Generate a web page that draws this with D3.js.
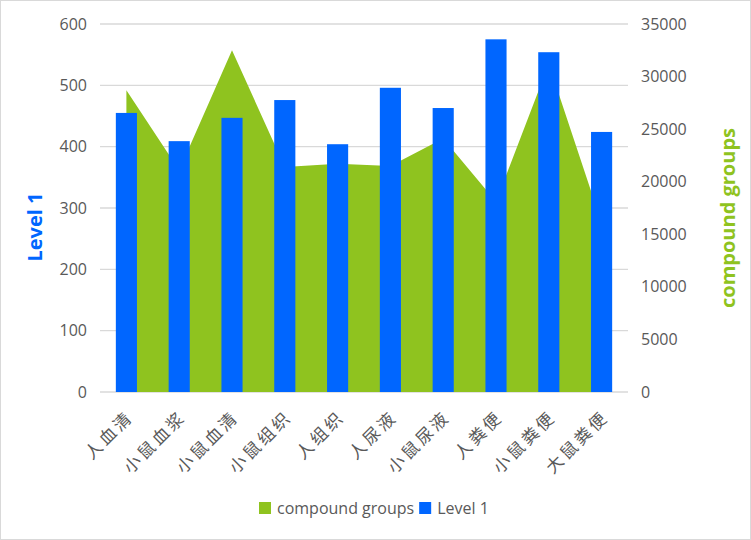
<!DOCTYPE html>
<html>
<head>
<meta charset="utf-8">
<script src="https://cdn.jsdelivr.net/npm/d3@7"></script>
<style>
  body { margin: 0; background: #fff; }
  text { font-family: "Open Sans", "Noto Sans CJK SC", sans-serif; }
</style>
</head>
<body>
<svg id="chart" width="751" height="540"></svg>
<script>
var categories = ['人血清', '小鼠血浆', '小鼠血清', '小鼠组织', '人组织', '人尿液', '小鼠尿液', '人粪便', '小鼠粪便', '大鼠粪便'];
var level1 = [455, 409, 447, 476, 404, 496, 463, 575, 554, 424];
var compoundGroups = [28700, 21100, 32500, 21400, 21700, 21500, 24100, 18100, 31200, 16100];
var leftTicks = [0, 100, 200, 300, 400, 500, 600];
var rightTicks = [0, 5000, 10000, 15000, 20000, 25000, 30000, 35000];

var blue = '#0066ff',
    green = '#8fc31f',
    margin = { left: 100, right: 123, top: 24, bottom: 148 },
    width = 751,
    height = 540;

var svg = d3.select('#chart');
var chartWidth = width - margin.left - margin.right;
var chartHeight = height - margin.top - margin.bottom;

svg.append('rect')
    .attr('x', 0.5).attr('y', 0.5)
    .attr('width', width - 1).attr('height', height - 1)
    .attr('fill', '#fff').attr('stroke', '#d9d9d9');

var xScale = d3.scaleBand().domain(categories).range([0, chartWidth]);
var yLeft = d3.scaleLinear().domain([0, 600]).range([chartHeight, 0]);
var yRight = d3.scaleLinear().domain([0, 35000]).range([chartHeight, 0]);

var g = svg.append('g')
    .attr('transform', 'translate(' + margin.left + ',' + margin.top + ')');

// gridlines
g.append('g').selectAll('line').data(leftTicks).enter().append('line')
    .attr('x1', 0).attr('x2', chartWidth)
    .attr('y1', d => yLeft(d)).attr('y2', d => yLeft(d))
    .attr('stroke', '#d9d9d9').attr('stroke-width', 1.3);

// area for compound groups
var area = d3.area()
    .x((d, i) => xScale(categories[i]) + xScale.bandwidth() / 2)
    .y0(chartHeight)
    .y1(d => yRight(d));

g.append('path')
    .datum(compoundGroups)
    .attr('d', area)
    .attr('fill', green);

// bars for level 1
var barW = xScale.bandwidth() * 0.4;
g.append('g').selectAll('rect').data(level1).enter().append('rect')
    .attr('x', (d, i) => xScale(categories[i]) + (xScale.bandwidth() - barW) / 2)
    .attr('width', barW)
    .attr('y', d => yLeft(d))
    .attr('height', d => chartHeight - yLeft(d))
    .attr('fill', blue);

// axes
var leftAxis = d3.axisLeft(yLeft).tickValues(leftTicks).tickSize(0).tickPadding(13);
var rightAxis = d3.axisRight(yRight).tickValues(rightTicks).tickSize(0).tickPadding(13)
    .tickFormat(d3.format('d'));

var la = g.append('g').call(leftAxis);
la.select('.domain').remove();
la.selectAll('text').attr('font-size', 16).attr('fill', '#595959');

var ra = g.append('g').attr('transform', 'translate(' + chartWidth + ',0)').call(rightAxis);
ra.select('.domain').remove();
ra.selectAll('text').attr('font-size', 16).attr('fill', '#595959');

// x labels
g.append('g').selectAll('text').data(categories).enter().append('text')
    .attr('transform', d => 'translate(' + (xScale(d) + xScale.bandwidth() / 2 + 8) + ',' + (chartHeight + 26) + ') rotate(-45)')
    .attr('text-anchor', 'end')
    .attr('font-size', 17)
    .attr('letter-spacing', 3)
    .attr('fill', '#595959')
    .text(d => d);

// axis titles
svg.append('text')
    .attr('transform', 'translate(42,227) rotate(-90)')
    .attr('text-anchor', 'middle')
    .attr('font-size', 20).attr('font-weight', 'bold')
    .attr('fill', blue)
    .text('Level 1');

svg.append('text')
    .attr('transform', 'translate(735,218) rotate(-90)')
    .attr('text-anchor', 'middle')
    .attr('font-size', 20).attr('font-weight', 'bold')
    .attr('fill', green)
    .text('compound groups');

// legend, laid out left to right then centred
var legendItems = [{ name: 'compound groups', color: green }, { name: 'Level 1', color: blue }];
var legendG = svg.append('g');
var legend = legendG.selectAll('g').data(legendItems).enter().append('g');
legend.append('rect').attr('y', 1).attr('width', 12).attr('height', 12).attr('fill', d => d.color);
legend.append('text')
    .attr('x', 18).attr('y', 13)
    .attr('font-size', 16).attr('fill', '#595959')
    .text(d => d.name);
var lx = 0;
legend.each(function () {
    d3.select(this).attr('transform', 'translate(' + lx + ',0)');
    lx += 18 + this.querySelector('text').getComputedTextLength() + 5;
});
legendG.attr('transform', 'translate(' + Math.round(374 - (lx - 5) / 2) + ',501)');
</script>
</body>
</html>
